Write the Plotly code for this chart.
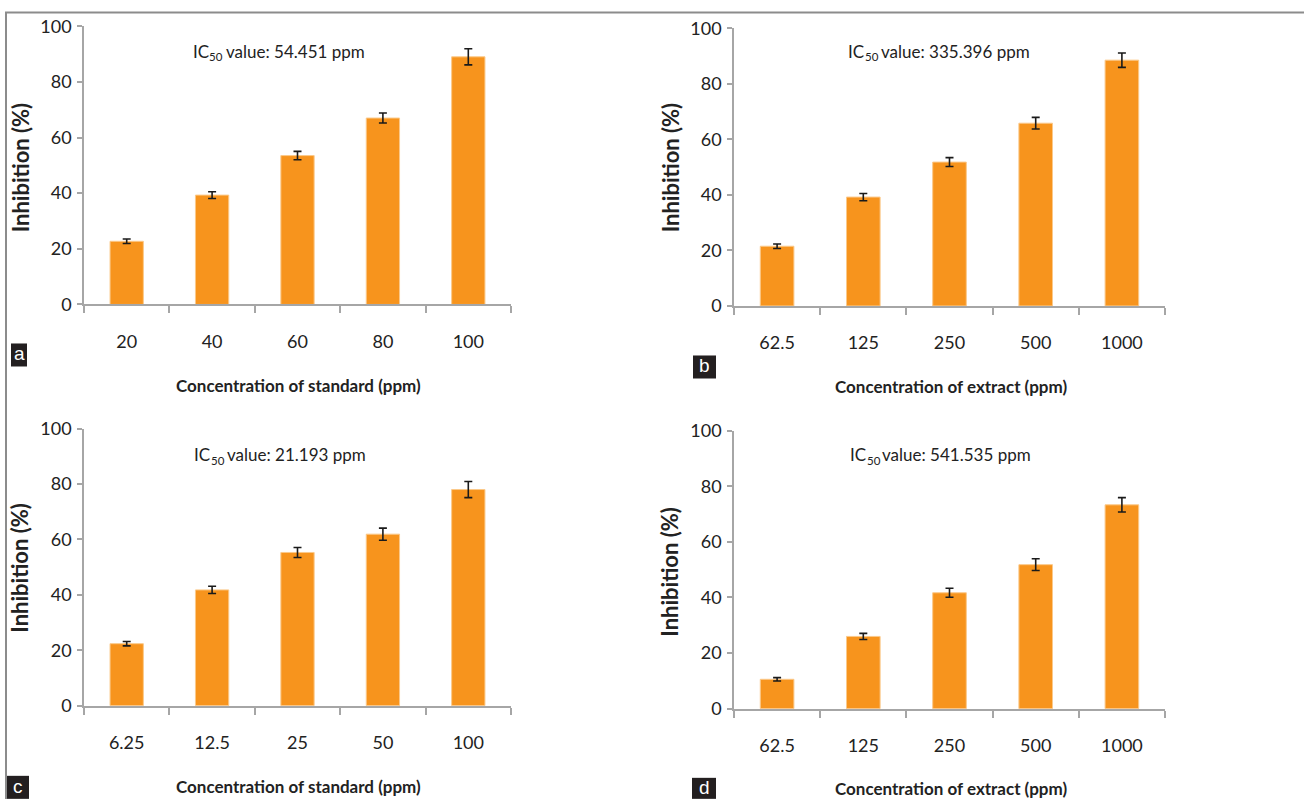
import plotly.graph_objects as go

W, H = 1304, 809

# ---- data ----
cat_a = ["20", "40", "60", "80", "100"]
val_a = [22.7, 39.3, 53.5, 67.0, 89.0]
err_a = [0.8, 1.2, 1.5, 1.8, 2.9]

cat_b = ["62.5", "125", "250", "500", "1000"]
val_b = [21.5, 39.2, 51.8, 65.8, 88.5]
err_b = [0.8, 1.3, 1.6, 2.1, 2.6]

cat_c = ["6.25", "12.5", "25", "50", "100"]
val_c = [22.4, 41.8, 55.3, 61.9, 78.0]
err_c = [0.8, 1.3, 1.8, 2.2, 2.9]

cat_d = ["62.5", "125", "250", "500", "1000"]
val_d = [10.6, 26.0, 41.7, 51.8, 73.3]
err_d = [0.6, 1.1, 1.6, 2.1, 2.6]

ic50_a = "54.451"
ic50_b = "335.396"
ic50_c = "21.193"
ic50_d = "541.535"

xtitle_std = "Concentration of standard (ppm)"
xtitle_ext = "Concentration of extract (ppm)"
ytitle = "Inhibition (%)"
ic_main = "IC"
ic_sub = "50"
y_ticks = [0, 20, 40, 60, 80, 100]

# photographed page appears vertically rescaled: compensate
VS, VO = 0.972, 12.8


def px(x):
    return x / W


def py(y):
    yf = (y - VO) / VS
    yf = min(max(yf, 0.5), H)
    return 1 - yf / H


BAR = "#F7941D"
AXC = "#A6A6A6"
FONT = "Lato"
TXT = "#222222"

panels = [
    # cats, vals, errs, ic50, xtitle, label, (x0,x1,y_top,y_bottom) in px
    (cat_a, val_a, err_a, ic50_a, xtitle_std, "a", (84, 511, 27, 305)),
    (cat_b, val_b, err_b, ic50_b, xtitle_ext, "b", (734, 1165, 29, 306.5)),
    (cat_c, val_c, err_c, ic50_c, xtitle_std, "c", (84, 511, 429, 706)),
    (cat_d, val_d, err_d, ic50_d, xtitle_ext, "d", (734, 1165, 431, 709)),
]

# right edge of "IC", and vertical centre of the IC text
ic_pos = {"a": (208, 52), "b": (863, 52), "c": (209, 455), "d": (865, 455)}
xt_pos = {"a": (298, 386), "b": (951, 387), "c": (298, 787), "d": (951, 789)}
yt_pos = {"a": (20, 168), "b": (670, 168), "c": (20, 568), "d": (670, 572)}

label_boxes = {
    "a": (11, 344, 27, 367),
    "b": (693, 356, 716, 379),
    "c": (6, 776, 29, 799),
    "d": (692, 778, 716, 799),
}

fig = go.Figure()
annotations = []
shapes = []

for i, (cats, vals, errs, ic, xt, lab, (x0, x1, yt, yb)) in enumerate(panels):
    n = "" if i == 0 else str(i + 1)
    fig.add_trace(go.Bar(
        x=cats, y=vals,
        xaxis="x" + n, yaxis="y" + n,
        width=0.39,
        marker=dict(color=BAR, line=dict(color="#FBC98A", width=1)),
        error_y=dict(type="data", array=errs, visible=True,
                     color="#1a1a1a", thickness=1.6, width=4),
        showlegend=False,
        hoverinfo="x+y",
    ))
    fig.layout["xaxis" + n] = dict(
        domain=[px(x0), px(x1)], anchor="y" + n, type="category",
        range=[-0.5, 4.5], tickson="boundaries", ticks="outside",
        ticklen=7, tickwidth=1.5, tickcolor=AXC,
        showline=True, linecolor=AXC, linewidth=1.5,
        showgrid=False, zeroline=False,
        tickfont=dict(family=FONT, size=18, color=TXT),
        ticklabelstandoff=20, fixedrange=True,
    )
    fig.layout["yaxis" + n] = dict(
        domain=[py(yb), py(yt)], anchor="x" + n,
        range=[0, 100], tickvals=y_ticks, ticks="outside",
        ticklen=5, tickwidth=1.5, tickcolor=AXC,
        showline=True, linecolor=AXC, linewidth=1.5,
        showgrid=False, zeroline=False,
        tickfont=dict(family=FONT, size=18, color=TXT),
        ticklabelstandoff=2, fixedrange=True,
    )
    # IC50 annotation: "IC" + subscript "50" + rest
    icx, icy = ic_pos[lab]
    annotations.append(dict(
        x=px(icx + 1), y=py(icy), xref="paper", yref="paper",
        xanchor="right", yanchor="middle", text=ic_main, showarrow=False,
        borderpad=0, borderwidth=0,
        font=dict(family=FONT, size=17, color=TXT),
    ))
    annotations.append(dict(
        x=px(icx + 1.5), y=py(icy + 5.5), xref="paper", yref="paper",
        xanchor="left", yanchor="middle", text=ic_sub, showarrow=False,
        borderpad=0, borderwidth=0,
        font=dict(family=FONT, size=11.5, color=TXT),
    ))
    annotations.append(dict(
        x=px(icx + 17.5), y=py(icy), xref="paper", yref="paper",
        xanchor="left", yanchor="middle",
        text="value: " + ic + " ppm", showarrow=False,
        borderpad=0, borderwidth=0,
        font=dict(family=FONT, size=17, color=TXT),
    ))
    # x title
    tx, ty = xt_pos[lab]
    annotations.append(dict(
        x=px(tx), y=py(ty), xref="paper", yref="paper",
        xanchor="center", yanchor="middle", text=xt,
        showarrow=False,
        font=dict(family=FONT, size=17, color=TXT, weight="bold"),
    ))
    # y title
    vx, vy = yt_pos[lab]
    annotations.append(dict(
        x=px(vx), y=py(vy), xref="paper", yref="paper",
        xanchor="center", yanchor="middle", text=ytitle,
        textangle=-90, showarrow=False,
        font=dict(family=FONT, size=22, color=TXT, weight="bold"),
    ))
    # panel label box
    bx0, by0, bx1, by1 = label_boxes[lab]
    shapes.append(dict(type="rect", xref="paper", yref="paper",
                       x0=px(bx0), x1=px(bx1), y0=py(by1), y1=py(by0),
                       fillcolor="#231F20", line=dict(width=0), layer="above"))
    annotations.append(dict(
        x=px((bx0 + bx1) / 2), y=py((by0 + by1) / 2 - 1), xref="paper", yref="paper",
        xanchor="center", yanchor="middle", text=lab, showarrow=False,
        font=dict(family="Liberation Sans", size=19, color="white"),
    ))

# outer frame lines (top and left)
shapes.append(dict(type="line", xref="paper", yref="paper",
                   x0=px(5), x1=1, y0=py(8.5), y1=py(8.5),
                   line=dict(color="#8C8C8C", width=2)))
shapes.append(dict(type="line", xref="paper", yref="paper",
                   x0=px(6), x1=px(6), y0=py(8.5), y1=0,
                   line=dict(color="#8C8C8C", width=2)))

fig.update_layout(
    width=W, height=H, autosize=False,
    margin=dict(l=0, r=0, t=0, b=0),
    paper_bgcolor="white", plot_bgcolor="white",
    annotations=annotations, shapes=shapes,
    font=dict(family=FONT),
)

fig.write_html("out.html")
